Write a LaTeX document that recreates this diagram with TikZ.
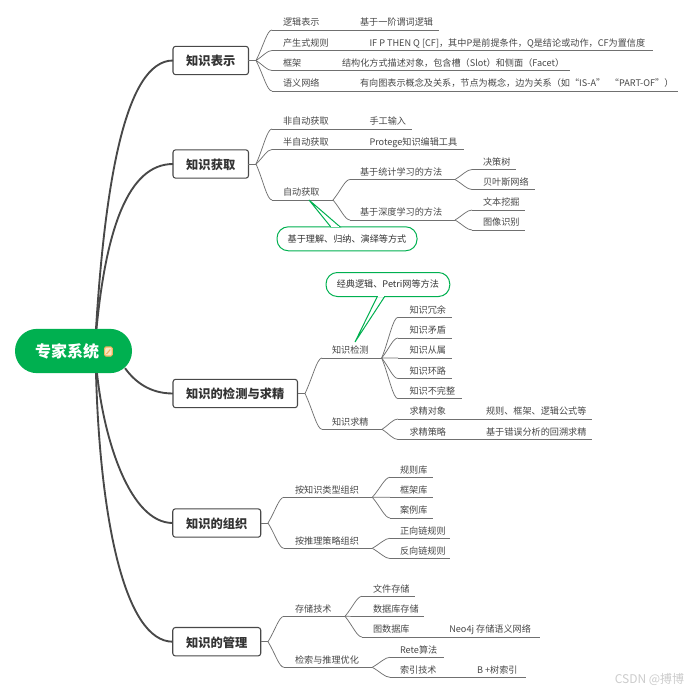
\documentclass[tikz,border=0pt]{standalone}
\usepackage{fontspec}
\setmainfont{Noto Sans CJK SC}
\usetikzlibrary{calc}
\definecolor{mygreen}{HTML}{00B050}
\definecolor{lineg}{HTML}{707070}
\definecolor{txt}{HTML}{484848}
\definecolor{trunk}{HTML}{484848}
\definecolor{iconc}{HTML}{F2B35F}
\definecolor{iconl}{HTML}{FBE6C4}
\tikzset{
  leafnode/.style={anchor=south west,inner sep=0pt,outer sep=0pt,text=txt,font=\fontsize{6.85}{8}\selectfont},
  branch/.style={draw=lineg,line width=0.55pt},
  trunkline/.style={draw=trunk,line width=1.4pt},
  topic/.style={draw=trunk,line width=0.8pt,fill=white,rounded corners=2pt,inner sep=0pt,outer sep=0pt,minimum height=21.3pt,text height=9.2pt,text depth=1pt,text=black!80,font=\fontsize{9.2}{11}\selectfont\bfseries},
  rootnode/.style={fill=mygreen,rounded corners=16.5pt,inner sep=0pt,outer sep=0pt,minimum width=87.75pt,minimum height=33.2pt,text height=11pt,text depth=1.2pt,text=white,font=\fontsize{12}{14}\selectfont\bfseries},
  note/.style={draw=mygreen,line width=0.75pt,fill=white,rounded corners=8.5pt,inner sep=0pt,outer sep=0pt,minimum height=18pt,text=black!80,font=\fontsize{6.85}{8}\selectfont},
  tail/.style={draw=mygreen,line width=0.75pt,fill=white,line join=miter},
}
\newcommand\lfnode[6]{%
  \pgfmathsetlengthmacro\lfw{(#3-#2)*0.75pt}%
  \pgfmathsetlengthmacro\lfp{(#5-#2)*0.75pt}%
  \node[leafnode] (#1) at (#2,#4) {\makebox[\lfw][l]{\rule[-3.1pt]{0pt}{9pt}\hspace*{\lfp}#6}};%
  \draw[branch] (#1.south west) -- (#1.south east);}
\newcommand\brc[2]{\draw[branch] (#1) .. controls ($(#1)!0.45!(#2.south west)$) and ([shift={(-5,0)}]#2.south west) .. (#2.south west);}
\newcommand\lnk[2]{\draw[branch] (#1.south east) -- (#2.south west);}
\begin{document}
\begin{tikzpicture}[x=0.75pt,y=-0.75pt]
\fill[white] (0,0) rectangle (692,693);
\useasboundingbox (0,0) rectangle (692,693);
% root and topics
\node[rootnode] (root) at (73.5,351) {\hspace*{-9.5pt}专家系统};
\node[topic,minimum width=56.6pt] (t1) at (210.75,60.5) {知识表示};
\node[topic,minimum width=56.6pt] (t2) at (210.75,164) {知识获取};
\node[topic,minimum width=93.4pt] (t3) at (235.25,393.5) {知识的检测与求精};
\node[topic,minimum width=66pt] (t4) at (216.75,523) {知识的组织};
\node[topic,minimum width=66pt] (t5) at (216.75,641.7) {知识的管理};
% note icon
\filldraw[fill=iconl,draw=iconc,line width=0.9pt,rounded corners=1pt] (104.6,347) rectangle (112.2,356);
\draw[iconc,line width=0.8pt] (106.5,354) -- (110.3,349.5);
% trunks
\draw[trunkline] ([shift={(22.5,0)}]root.north) .. controls (105,185) and (125,60.5) .. (t1.west);
\draw[trunkline] ([shift={(23,0)}]root.north) .. controls (106,230) and (128,164) .. (t2.west);
\draw[trunkline] ([shift={(-7,-5)}]root.south east) .. controls (135,382) and (150,393.5) .. (t3.west);
\draw[trunkline] ([shift={(23.5,0)}]root.south) .. controls (104,440) and (130,523) .. (t4.west);
\draw[trunkline] ([shift={(22.5,0)}]root.south) .. controls (100,520) and (125,641.7) .. (t5.west);
% fork points
\coordinate (f1) at (256,60.5);
\coordinate (f2) at (256,164);
\coordinate (f3) at (305,393.5);
\coordinate (f4) at (268,523);
\coordinate (f5) at (268,641.7);
\foreach \a/\b in {t1/f1,t2/f2,t3/f3,t4/f4,t5/f5}{\draw[branch] (\a.east) -- (\b);}
% topic 1
\lfnode{a1}{272}{350}{30}{283}{逻辑表示}
\lfnode{a1d}{354}{439}{30}{360}{基于一阶谓词逻辑}
\lfnode{a2}{272}{360}{50.5}{283}{产生式规则}
\lfnode{a2d}{364}{653}{50.5}{369.5}{IF P THEN Q [CF]，其中P是前提条件，Q是结论或动作，CF为置信度}
\lfnode{a3}{272}{330}{70.5}{283}{框架}
\lfnode{a3d}{336}{570}{70.5}{342}{结构化方式描述对象，包含槽（Slot）和侧面（Facet）}
\lfnode{a4}{272}{350}{91}{283}{语义网络}
\lfnode{a4d}{354}{678}{91}{360}{有向图表示概念及关系，节点为概念，边为关系（如“IS-A”\enspace“PART-OF”）}
\foreach \c in {a1,a2,a3,a4}{\brc{f1}{\c}\lnk{\c}{\c d}}
% topic 2
\lfnode{b1}{272}{360}{129}{283}{非自动获取}
\lfnode{b1d}{364}{412}{129}{369.5}{手工输入}
\lfnode{b2}{272}{360}{149.5}{283}{半自动获取}
\lfnode{b2d}{364}{464}{149.5}{369.5}{Protege知识编辑工具}
\lfnode{b3}{272}{333}{200}{283}{自动获取}
\foreach \c in {b1,b2,b3}{\brc{f2}{\c}}
\lnk{b1}{b1d}\lnk{b2}{b2d}
\lfnode{b4}{350}{455}{179.5}{360}{基于统计学习的方法}
\lfnode{b5}{350}{455}{220}{360}{基于深度学习的方法}
\brc{b3.south east}{b4}\brc{b3.south east}{b5}
\lfnode{b6}{472}{516}{169.5}{483}{决策树}
\lfnode{b7}{472}{534.5}{189.5}{483}{贝叶斯网络}
\lfnode{b8}{472}{525}{210}{483}{文本挖掘}
\lfnode{b9}{472}{525}{230}{483}{图像识别}
\brc{b4.south east}{b6}\brc{b4.south east}{b7}\brc{b5.south east}{b8}\brc{b5.south east}{b9}
% topic 3
\lfnode{c1}{322}{381.7}{358}{332}{知识检测}
\lfnode{c2}{322}{382}{429.3}{332}{知识求精}
\brc{f3}{c1}\brc{f3}{c2}
\lfnode{c3}{398}{452}{317.3}{409.5}{知识冗余}
\lfnode{c4}{398}{452}{338}{409.5}{知识矛盾}
\lfnode{c5}{398}{452}{358}{409.5}{知识从属}
\lfnode{c6}{398}{452}{378.5}{409.5}{知识环路}
\lfnode{c7}{398}{461.7}{398.7}{409.5}{知识不完整}
\foreach \c in {c3,c4,c5,c6,c7}{\brc{c1.south east}{\c}}
\lfnode{c8}{398}{470}{419}{409.5}{求精对象}
\lfnode{c8d}{476}{592}{419}{486}{规则、框架、逻辑公式等}
\lfnode{c9}{398}{470}{439.5}{409.5}{求精策略}
\lfnode{c9d}{476}{592}{439.5}{486}{基于错误分析的回溯求精}
\brc{c2.south east}{c8}\brc{c2.south east}{c9}
\lnk{c8}{c8d}\lnk{c9}{c9d}
% topic 4
\lfnode{d1}{284}{372.3}{497.3}{295}{按知识类型组织}
\lfnode{d2}{284}{372.3}{548.3}{295}{按推理策略组织}
\brc{f4}{d1}\brc{f4}{d2}
\lfnode{d3}{390}{433}{477.3}{400}{规则库}
\lfnode{d4}{390}{433}{497.3}{400}{框架库}
\lfnode{d5}{390}{433}{518}{400}{案例库}
\lfnode{d6}{390}{450}{538.3}{400}{正向链规则}
\lfnode{d7}{390}{450}{558.5}{400}{反向链规则}
\brc{d1.south east}{d3}\brc{d1.south east}{d4}\brc{d1.south east}{d5}\brc{d2.south east}{d6}\brc{d2.south east}{d7}
% topic 5
\lfnode{e1}{284}{345}{616.3}{295}{存储技术}
\lfnode{e2}{284}{372.3}{667.3}{295}{检索与推理优化}
\brc{f5}{e1}\brc{f5}{e2}
\lfnode{e3}{362}{415}{596.3}{373}{文件存储}
\lfnode{e4}{362}{424}{616.5}{373}{数据库存储}
\lfnode{e5}{362}{440}{637}{373}{图数据库}
\lfnode{e5d}{444}{539.7}{637}{449.3}{Neo4j 存储语义网络}
\brc{e1.south east}{e3}\brc{e1.south east}{e4}\brc{e1.south east}{e5}\lnk{e5}{e5d}
\lfnode{e6}{390}{443.7}{657.3}{400}{Rete算法}
\lfnode{e7}{390}{465}{677.3}{400}{索引技术}
\lfnode{e7d}{470}{526}{677.3}{477}{B +树索引}
\brc{e2.south east}{e6}\brc{e2.south east}{e7}\lnk{e7}{e7d}
% callouts
\node[note,minimum width=105pt] (n1) at (347,238.8) {基于理解、归纳、演绎等方式};
\draw[tail] ([shift={(37,0)}]b3.south west) -- ([shift={(-16.3,0)}]n1.north) -- ([shift={(-7,0)}]n1.north) -- cycle;
\draw[white,line width=1pt] ([shift={(-15.6,0)}]n1.north) -- ([shift={(-7.8,0)}]n1.north);
\node[note,minimum width=92.8pt] (n2) at (387.9,284.5) {经典逻辑、Petri网等方法};
\draw[tail] ([shift={(33,-16)}]c1.south west) -- ([shift={(-10.6,0)}]n2.south) -- ([shift={(-3.2,0)}]n2.south) -- cycle;
\draw[white,line width=1pt] ([shift={(-9.9,0)}]n2.south) -- ([shift={(-3.9,0)}]n2.south);
% watermark
\node[anchor=west,inner sep=0pt,text=black!20,font=\fontsize{9}{10}\selectfont] (wm) at (614.5,679) {CSDN @搏博};
\end{tikzpicture}
\end{document}
